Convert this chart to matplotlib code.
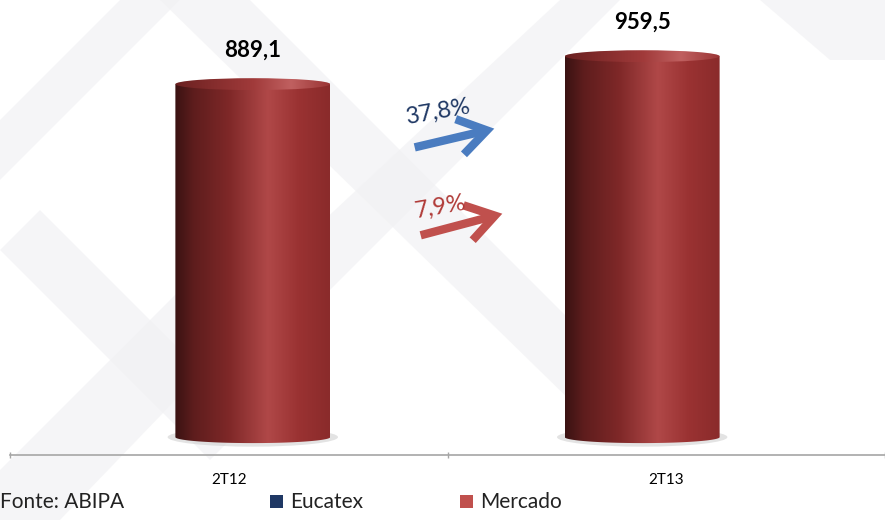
import numpy as np
import matplotlib
matplotlib.use("Agg")
import matplotlib.pyplot as plt
from matplotlib.patches import Ellipse, Rectangle, Polygon, FancyArrowPatch, PathPatch
from matplotlib.path import Path
from matplotlib.colors import LinearSegmentedColormap

plt.rcParams['font.family'] = ['Lato', 'DejaVu Sans']

categories = ['2T12', '2T13']
values = [889.1, 959.5]
value_labels = ['889,1', '959,5']
growth_labels = ['37,8%', '7,9%']
legend_labels = ['Eucatex', 'Mercado']
legend_colors = ['#1f3864', '#c0504d']
source_text = 'Fonte: ABIPA'

W, H = 885, 520
fig = plt.figure(figsize=(W / 100, H / 100), dpi=100)
fig.patch.set_facecolor('white')

# faint background chevrons
bg = fig.add_axes([0, 0, 1, 1])
bg.set_xlim(0, W); bg.set_ylim(H, 0); bg.axis('off')
stripe = '#f2f2f4'
for pts in [
    [(0, 120), (120, 0), (180, 0), (0, 180)],
    [(0, 470), (270, 200), (320, 250), (60, 520), (0, 520)],
    [(160, 0), (250, 0), (620, 370), (580, 410)],
    [(560, 0), (620, 0), (300, 320), (260, 280)],
    [(760, 0), (885, 0), (885, 60), (830, 60)],
    [(0, 250), (40, 210), (250, 420), (210, 460)],
]:
    bg.add_patch(Polygon(pts, closed=True, facecolor=stripe, edgecolor='none', alpha=0.7))

ax = fig.add_axes([10 / W, 65 / H, 875 / W, 455 / H])
ax.patch.set_alpha(0)
ax.set_xlim(-0.5, 1.5)
ax.set_ylim(-45, 1101)

cmap = LinearSegmentedColormap.from_list('cyl', [
    (0.0, '#3a1212'), (0.12, '#5e1d1d'), (0.35, '#7f2828'),
    (0.6, '#b04848'), (0.8, '#9a3232'), (1.0, '#8a2b2b')])
cmap_top = LinearSegmentedColormap.from_list('cyltop', [
    (0.0, '#6a2020'), (0.5, '#a03a3a'), (0.75, '#c06060'), (1.0, '#9a3535')])

bw = 0.354
eh = 30  # ellipse full height in data units
offsets = [0.055, -0.055]
grad = np.linspace(0, 1, 256).reshape(1, -1)

for i, v in enumerate(values):
    cx = i + offsets[i]
    x0, x1 = cx - bw / 2, cx + bw / 2
    ax.add_patch(Ellipse((cx, 0), bw * 1.1, eh * 1.6, facecolor='#c8c8c8', edgecolor='none', alpha=0.5, zorder=1))
    t = np.linspace(np.pi, 2 * np.pi, 60)
    bottom = [(cx + bw / 2 * np.cos(a), 0 + eh / 2 * np.sin(a)) for a in t]
    verts = [(x0, v)] + bottom + [(x1, v), (x0, v)]
    pp = PathPatch(Path(verts), facecolor='none', edgecolor='none')
    ax.add_patch(pp)
    im = ax.imshow(grad, cmap=cmap, aspect='auto', extent=[x0, x1, -eh, v],
                   zorder=2, interpolation='bicubic')
    im.set_clip_path(pp)
    top = Ellipse((cx, v), bw, eh, facecolor='none', edgecolor='none')
    ax.add_patch(top)
    im2 = ax.imshow(grad, cmap=cmap_top, aspect='auto', extent=[x0, x1, v - eh / 2, v + eh / 2],
                    zorder=3, interpolation='bicubic')
    im2.set_clip_path(top)
    ax.text(cx, v + 86, value_labels[i], ha='center', va='center', fontsize=16,
            fontweight='bold', color='black', zorder=5)

ax.set_xticks([-0.5, 0.5, 1.5], minor=False)
ax.set_xticklabels([])
ax.set_xticks([0, 1], minor=True)
ax.set_xticklabels(categories, minor=True, fontsize=11)
ax.tick_params(axis='x', which='minor', length=0, pad=13)
ax.tick_params(axis='x', which='major', length=5, direction='inout', color='#a6a6a6', width=1)
ax.set_yticks([])
for s in ['top', 'right', 'left']:
    ax.spines[s].set_visible(False)
ax.spines['bottom'].set_color('#a6a6a6')
ax.spines['bottom'].set_linewidth(1.2)

arrow_specs = [
    ((412, H - 148), (497, H - 128), '#4a7cc0', growth_labels[0], (438, H - 112), '#1f3864'),
    ((418, H - 236), (505, H - 213), '#c0504d', growth_labels[1], (440, H - 207), '#b03a37'),
]
for tail, head, col, lab, tpos, tcol in arrow_specs:
    fig.add_artist(FancyArrowPatch(tail, head, transform=None,
                                   arrowstyle='->,head_length=1.0,head_width=0.65',
                                   mutation_scale=20, lw=6, color=col,
                                   capstyle='butt', joinstyle='miter'))
    fig.text(tpos[0] / W, tpos[1] / H, lab, ha='center', va='center', fontsize=17,
             color=tcol, rotation=10)

fig.text(0 / W, 8 / H, source_text, ha='left', va='bottom', fontsize=15, color='#222222')
lx = [270, 460]
for x, lab, c in zip(lx, legend_labels, legend_colors):
    fig.add_artist(Rectangle((x / W, 12 / H), 13 / W, 13 / H, transform=fig.transFigure,
                             facecolor=c, edgecolor='none'))
    fig.text((x + 20) / W, 8 / H, lab, ha='left', va='bottom', fontsize=15, color='#222222')

fig.savefig('out.png', dpi=100, facecolor=fig.get_facecolor())
